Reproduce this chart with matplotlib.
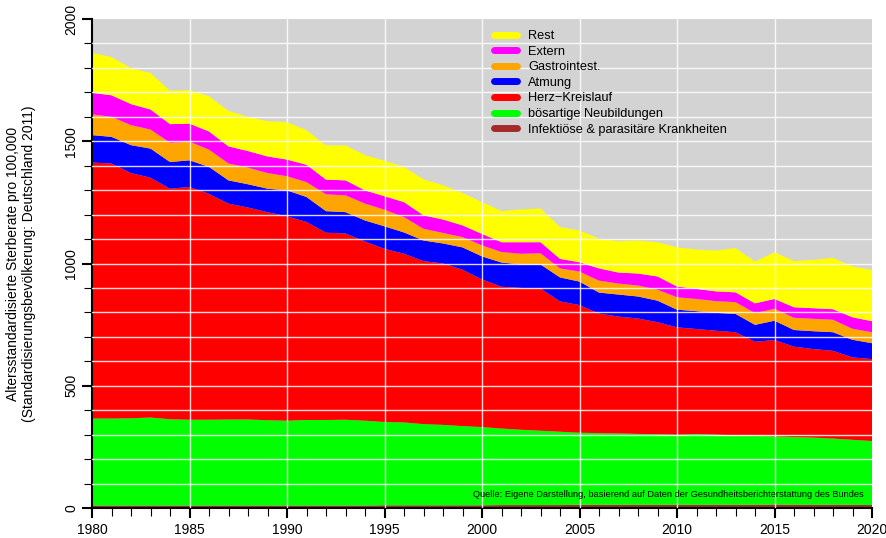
import numpy as np
import matplotlib.pyplot as plt
from matplotlib.lines import Line2D

plt.rcParams['font.family'] = ['Liberation Sans', 'DejaVu Sans']

jahre = list(range(1980, 2021))

infekt = [10, 10, 10, 10, 10, 10, 10, 10, 10, 10,
          10, 10, 10, 10, 10, 11, 11, 11, 11, 11,
          11, 12, 12, 12, 12, 13, 13, 13, 13, 13,
          13, 13, 13, 13, 13, 14, 13, 13, 13, 13, 12]
neubildungen = [356, 356, 357, 360, 353, 351, 351, 352, 352, 349,
                347, 350, 350, 351, 347, 341, 339, 332, 329, 324,
                320, 313, 308, 304, 300, 295, 293, 292, 290, 289,
                287, 290, 287, 284, 282, 279, 277, 275, 271, 266, 262]
herz = [1047, 1043, 1003, 981, 943, 952, 924, 883, 867, 851,
        836, 810, 766, 762, 733, 708, 690, 667, 660, 640,
        604, 580, 580, 582, 533, 522, 489, 478, 472, 458,
        439, 429, 425, 422, 385, 394, 370, 362, 359, 337, 335]
atmung = [112, 109, 114, 119, 109, 109, 110, 95, 95, 96,
          106, 102, 88, 87, 86, 92, 87, 84, 82, 91,
          94, 99, 96, 98, 98, 96, 86, 90, 90, 88,
          72, 73, 73, 75, 69, 79, 68, 73, 76, 72, 65]
gastro = [85, 82, 82, 78, 79, 76, 71, 69, 68, 64,
          58, 61, 69, 69, 69, 68, 63, 48, 43, 42,
          45, 43, 44, 46, 37, 41, 49, 45, 45, 45,
          51, 50, 48, 48, 48, 49, 50, 51, 51, 45, 45]
extern = [88, 88, 86, 82, 76, 74, 74, 70, 68, 68,
          68, 71, 60, 61, 54, 55, 61, 55, 55, 48,
          47, 40, 47, 45, 39, 38, 50, 45, 49, 54,
          44, 41, 40, 40, 40, 40, 43, 43, 43, 47, 45]
rest = [164, 156, 147, 149, 136, 137, 144, 145, 140, 144,
        153, 141, 140, 143, 144, 145, 144, 147, 140, 132,
        130, 127, 134, 138, 130, 130, 122, 128, 135, 140,
        160, 161, 167, 181, 171, 191, 189, 198, 210, 208, 210]

labels = ['Infektiöse & parasitäre Krankheiten', 'bösartige Neubildungen',
          'Herz\u2212Kreislauf', 'Atmung', 'Gastrointest.', 'Extern', 'Rest']
farben = ['#A52A2A', '#00FF00', '#FF0000', '#0000FF', '#FFA500', '#FF00FF', '#FFFF00']

fig = plt.figure(figsize=(8.86, 5.38), dpi=100)
ax = fig.add_axes([92/886, 30/538, 780/886, 489/538])
ax.set_facecolor('#D3D3D3')

ax.stackplot(jahre, infekt, neubildungen, herz, atmung, gastro, extern, rest,
             colors=farben, linewidth=0, zorder=2)

# Gitter ueber den Flaechen
for y in range(100, 2000, 100):
    ax.axhline(y, color='white', lw=1, alpha=0.85, zorder=3)
for x in range(1985, 2020, 5):
    ax.axvline(x, color='white', lw=1, alpha=0.85, zorder=3)

ax.set_xlim(1980, 2020)
ax.set_ylim(0, 2000)
ax.spines['top'].set_visible(False)
ax.spines['right'].set_visible(False)
ax.spines['left'].set_linewidth(1.5)
ax.spines['bottom'].set_linewidth(1.5)

ax.set_xticks(range(1980, 2021, 5))
ax.set_xticks(range(1980, 2021), minor=True)
ax.set_yticks(range(0, 2001, 500))
ax.set_yticks(range(0, 2001, 100), minor=True)
ax.tick_params(which='major', length=7, width=1.5, labelsize=10)
ax.tick_params(which='minor', length=6, width=0.8)
ax.tick_params(axis='x', which='major', pad=4)
ax.tick_params(axis='y', which='major', pad=3)
for t in ax.get_yticklabels():
    t.set_rotation(90)
    t.set_va('center')

ax.set_ylabel('Altersstandardisierte Sterberate pro 100,000\n(Standardisierungsbevölkerung: Deutschland 2011)',
              fontsize=10, labelpad=20, linespacing=1.2)

handles = [Line2D([0], [0], color=c, lw=5, solid_capstyle='round') for c in farben[::-1]]
ax.legend(handles, labels[::-1], loc='upper left', bbox_to_anchor=(0.505, 0.993),
          frameon=False, fontsize=9.2, handlelength=1.8, labelspacing=0.28,
          handletextpad=0.9, borderaxespad=0.2)

ax.text(0.99, 0.027, 'Quelle: Eigene Darstellung, basierend auf Daten der Gesundheitsberichterstattung des Bundes',
        transform=ax.transAxes, ha='right', va='center', fontsize=6.7, zorder=5)

fig.savefig('out.png', dpi=100)
